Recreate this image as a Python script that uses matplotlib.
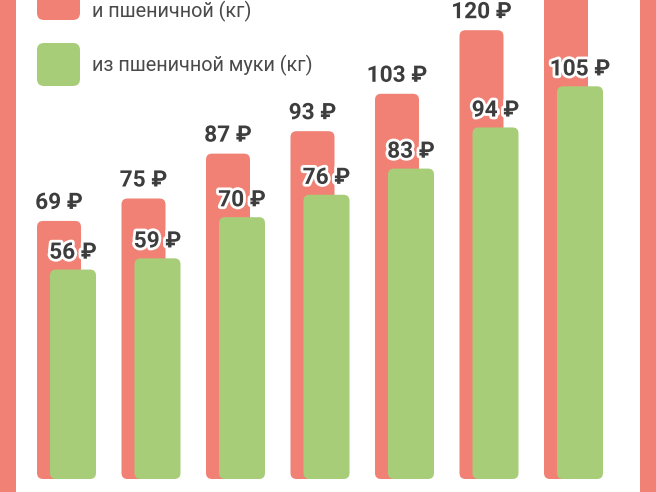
import matplotlib
matplotlib.use('Agg')
from matplotlib import pyplot as plt
from matplotlib.patches import FancyBboxPatch, Rectangle
from matplotlib.transforms import IdentityTransform
import matplotlib.patheffects as pe

plt.rcParams['font.family'] = ['Roboto', 'DejaVu Sans']

# prices in rubles, 7 periods (the last red bar runs off the top)
rye_wheat = [69, 75, 87, 93, 103, 120, 140]
wheat = [56, 59, 70, 76, 83, 94, 105]
legend_labels = ['и пшеничной (кг)', 'из пшеничной муки (кг)']

RED = '#f08174'
GREEN = '#a8cd78'
TEXT = '#3d3d3d'

W, H = 656, 492
fig = plt.figure(figsize=(W / 100, H / 100), dpi=100)
ax = fig.add_axes([0, 0, 1, 1])
step_px = 84.5
ppu = 3.74  # pixels per ruble
x0_px = 59
base_px = 13
ax.set_xlim((0 - x0_px) / step_px, (W - x0_px) / step_px)
ymax = (H - base_px) / ppu
ax.set_ylim(-base_px / ppu, ymax)
ax.axis('off')

r_px = 6
rx = r_px / step_px
aspect = (r_px / ppu) / rx


def rbar(xc, w, h, color):
    p = FancyBboxPatch((xc - w / 2, 0), w, h,
                       boxstyle='round,pad=0,rounding_size=%f' % rx,
                       mutation_aspect=aspect, fc=color, ec='none')
    ax.add_patch(p)


red_w = 44 / step_px
green_w = 46 / step_px
green_off = 14 / step_px
lbl_gap = 7 / ppu
stroke = [pe.withStroke(linewidth=4, foreground='white')]

for i, a in enumerate(rye_wheat):
    rbar(i, red_w, a, RED)
    if a < ymax:  # label of the cut bar lies outside the picture
        ax.text(i, a + lbl_gap, '%d ₽' % a, ha='center', va='bottom',
                fontsize=16.3, fontweight='bold', color=TEXT, path_effects=stroke)
for i, b in enumerate(wheat):
    rbar(i + green_off, green_w, b, GREEN)
    ax.text(i + green_off, b + lbl_gap - 0.3, '%d ₽' % b, ha='center', va='bottom',
            fontsize=16.3, fontweight='bold', color=TEXT, path_effects=stroke)

# side strips of the neighbouring panels
fig.patches.append(Rectangle((0, 0), 16 / W, 1, transform=fig.transFigure,
                             fc=RED, ec='none'))
fig.patches.append(Rectangle((640 / W, 0), 16 / W, 1, transform=fig.transFigure,
                             fc=RED, ec='none'))

# legend
for top, ty, color, label in [(-23, 11, RED, legend_labels[0]),
                              (43, 65, GREEN, legend_labels[1])]:
    sq = FancyBboxPatch((37, H - top - 43), 43, 43,
                        boxstyle='round,pad=0,rounding_size=7',
                        transform=IdentityTransform(), fc=color, ec='none')
    fig.patches.append(sq)
    fig.text(92 / W, 1 - ty / H, label, ha='left', va='center',
             fontsize=14.3, color='#4a4a4a')

fig.savefig('out.png', dpi=100, facecolor='white')
